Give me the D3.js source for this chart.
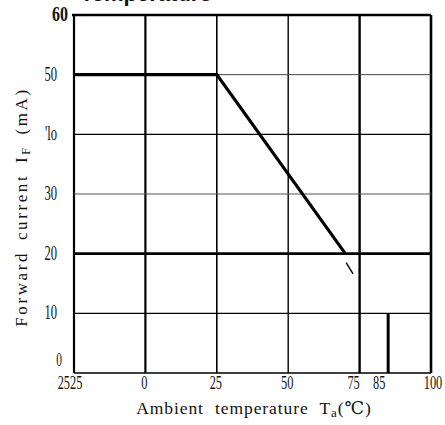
<!DOCTYPE html>
<html>
<head>
<meta charset="utf-8">
<script src="https://cdn.jsdelivr.net/npm/d3@7"></script>
<style>
  html, body { margin: 0; padding: 0; background: #fff; }
  svg { display: block; }
  text { fill: #111; }
</style>
</head>
<body>
<svg id="chart" width="445" height="425"></svg>
<script>
// Temperature derating curve: allowable forward current vs ambient temperature
const xTicks = [-25, 0, 25, 50, 75, 85, 100];
const xTickLabels = ["2525", "0", "25", "50", "75", "85", "100"];
const yTicks = [0, 10, 20, 30, 40, 50, 60];
const yTickLabels = ["0", "10", "20", "30", "'lo", "50", "60"];

// vertical grid lines (°C) and horizontal grid lines (mA)
const xGrid = [-25, 0, 25, 50, 75, 100];
const yGrid = [0, 10, 20, 30, 40, 50, 60];

// derating curve (°C, mA)
const curveTemp = [-25, 25, 70];
const curveCurrent = [50, 50, 20];
// short continuation stroke below the curve end
const tailTemp = [70.3, 72.7];
const tailCurrent = [18.5, 16.6];
// maximum operating temperature marker
const markerTemp = [85, 85];
const markerCurrent = [10, 0];

const svg = d3.select("#chart");
const x = d3.scaleLinear().domain([-25, 100]).range([74, 431]);
const y = d3.scaleLinear().domain([0, 60]).range([373, 15]);

const serif = "'Liberation Serif', 'DejaVu Serif', serif";

// grid line weights
const vWidth = { "-25": 2.2, "0": 2.2, "25": 1.6, "50": 1.4, "75": 2.4, "100": 2.6 };
const hWidth = { "0": 1.6, "10": 1.4, "20": 2.6, "30": 1, "40": 1.2, "50": 1, "60": 2.6 };
const hColor = { "30": "#555", "50": "#444" };

svg.append("g").selectAll("line").data(xGrid).join("line")
  .attr("x1", d => x(d)).attr("x2", d => x(d))
  .attr("y1", y(60)).attr("y2", y(0))
  .attr("stroke", "#000")
  .attr("stroke-width", d => vWidth[d]);

svg.append("g").selectAll("line").data(yGrid).join("line")
  .attr("x1", x(-25)).attr("x2", x(100))
  .attr("y1", d => y(d)).attr("y2", d => y(d))
  .attr("stroke", d => hColor[d] || "#000")
  .attr("stroke-width", d => hWidth[d]);

// small tick stub at the top-left corner
svg.append("line")
  .attr("x1", x(-25) - 2).attr("x2", x(-25))
  .attr("y1", y(60)).attr("y2", y(60))
  .attr("stroke", "#000").attr("stroke-width", 2.6);

const line = d3.line().x(d => x(d[0])).y(d => y(d[1]));

svg.append("path")
  .datum(d3.zip(curveTemp, curveCurrent))
  .attr("d", line)
  .attr("fill", "none").attr("stroke", "#000")
  .attr("stroke-width", 3.2).attr("stroke-linejoin", "miter");

svg.append("path")
  .datum(d3.zip(tailTemp, tailCurrent))
  .attr("d", line)
  .attr("fill", "none").attr("stroke", "#000").attr("stroke-width", 1.4);

svg.append("path")
  .datum(d3.zip(markerTemp, markerCurrent))
  .attr("d", line)
  .attr("fill", "none").attr("stroke", "#000").attr("stroke-width", 3);

// y tick labels (narrow serif numerals)
const yl = svg.append("g");
yTicks.forEach((v, i) => {
  const top = v === 60;
  const tx = v === 0 ? 62 : top ? 68 : 57;
  const ty = v === 0 ? y(0) - 7 : y(v) + 6;
  const g = yl.append("g")
    .attr("transform", `translate(${tx},${ty}) scale(${top ? 0.8 : 0.6},1)`);
  g.append("text")
    .attr("text-anchor", "end")
    .attr("font-family", serif)
    .attr("font-size", top ? 20 : v === 0 ? 19 : 21)
    .attr("font-weight", top ? "bold" : "normal")
    .text(yTickLabels[i]);
});

// x tick labels
const xShift = { "75": -6, "85": -9, "-25": -4, "100": 2 };
const xl = svg.append("g");
xTicks.forEach((v, i) => {
  const g = xl.append("g")
    .attr("transform", `translate(${x(v) + (xShift[v] || -1)},${y(0) + 16}) scale(0.65,1)`);
  g.append("text")
    .attr("text-anchor", "middle")
    .attr("font-family", serif)
    .attr("font-size", 19)
    .text(xTickLabels[i]);
});

// axis titles
const xt = svg.append("text")
  .attr("x", 254).attr("y", 414)
  .attr("text-anchor", "middle")
  .attr("font-family", serif)
  .attr("font-size", 17.5)
  .attr("letter-spacing", 0.9)
  .attr("word-spacing", 6);
xt.append("tspan").text("Ambient temperature T");
xt.append("tspan").attr("font-size", 13).attr("dy", 3).text("a");
xt.append("tspan").attr("dy", -3).text("(℃)");

const yt = svg.append("text")
  .attr("transform", "translate(27,207) rotate(-90)")
  .attr("text-anchor", "middle")
  .attr("font-family", serif)
  .attr("font-size", 17)
  .attr("letter-spacing", 2.6)
  .attr("word-spacing", 4);
yt.append("tspan").text("Forward current I");
yt.append("tspan").attr("font-size", 12).attr("dy", 3).text("F");
yt.append("tspan").attr("dy", -3).text(" (mA)");

// chart title, partly outside the top edge
svg.append("text")
  .attr("x", 80).attr("y", 1)
  .attr("font-family", "'Liberation Sans', Arial, sans-serif")
  .attr("font-weight", "bold")
  .attr("font-size", 22)
  .text("Temperature");
</script>
</body>
</html>
